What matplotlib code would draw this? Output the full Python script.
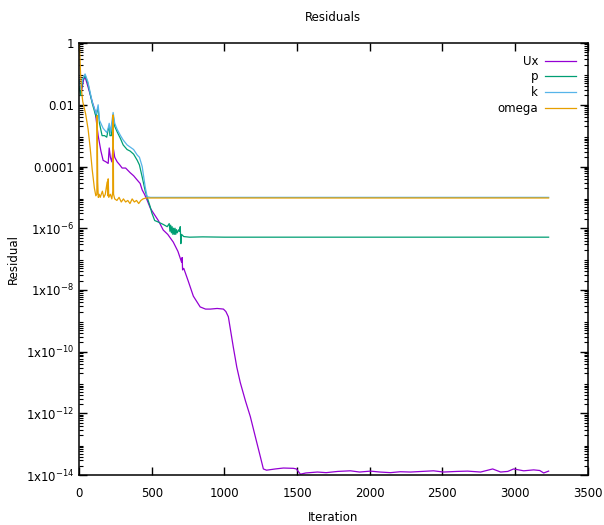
import numpy as np
import matplotlib
matplotlib.use("Agg")
import matplotlib.pyplot as plt
from matplotlib.ticker import FixedLocator, FixedFormatter, LogLocator, NullFormatter

# residual histories (iteration, log10 residual)
ux_it = [0, 15, 30, 41, 60, 90, 110, 131, 150, 165, 185, 200, 207, 215, 225, 234, 245, 262, 280, 296,
         320, 351, 375, 400, 420, 434, 450, 468, 490, 510, 545, 579, 610, 648, 680, 705, 709, 712, 720,
         750, 786, 833, 870, 903, 950, 993, 1010, 1027, 1061, 1085, 1109, 1145, 1178, 1215, 1247, 1268,
         1290, 1350, 1406, 1475, 1495, 1523, 1560, 1640, 1700, 1780, 1867, 1930, 2005, 2070, 2143, 2210,
         2281, 2360, 2439, 2508, 2600, 2673, 2763, 2846, 2901, 2950, 2990, 3060, 3128, 3170, 3197, 3231]
ux_log = [-1.5, -1.6, -1.2, -1.1, -1.4, -1.9, -2.2, -3.0, -3.5, -3.8, -3.85, -3.9, -3.4, -3.7, -3.85,
          -3.37, -3.7, -3.85, -3.95, -4.05, -4.05, -4.2, -4.3, -4.44, -4.55, -4.76, -4.9, -5.09, -5.35,
          -5.5, -5.75, -6.06, -6.2, -6.45, -6.75, -7.1, -6.95, -7.35, -7.3, -7.7, -8.2, -8.55, -8.62,
          -8.62, -8.6, -8.62, -8.7, -8.87, -9.85, -10.5, -11.0, -11.6, -12.1, -12.8, -13.4, -13.8, -13.84,
          -13.8, -13.77, -13.78, -13.8, -13.97, -13.93, -13.9, -13.92, -13.88, -13.86, -13.9, -13.87,
          -13.9, -13.92, -13.89, -13.9, -13.88, -13.86, -13.9, -13.88, -13.87, -13.9, -13.8, -13.9,
          -13.88, -13.8, -13.86, -13.83, -13.85, -13.93, -13.87]

p_it = [0, 10, 25, 41, 60, 90, 117, 124, 131, 140, 158, 175, 190, 200, 207, 212, 222, 234, 245, 262,
        285, 303, 330, 351, 375, 400, 415, 434, 455, 475, 489, 500, 520, 545, 580, 606, 620, 625, 630,
        635, 640, 645, 650, 655, 660, 665, 670, 675, 680, 685, 690, 696, 700, 705, 720, 760, 850, 1000,
        3231]
p_log = [-1.4, -1.7, -1.2, -1.05, -1.3, -1.95, -2.4, -2.2, -2.1, -2.6, -3.0, -3.0, -3.05, -2.8, -2.7,
         -3.0, -3.0, -2.33, -2.7, -2.88, -3.1, -3.3, -3.45, -3.5, -3.6, -3.8, -3.95, -4.34, -4.8, -5.1,
         -5.3, -5.5, -5.75, -5.8, -5.88, -5.95, -5.85, -6.1, -5.9, -6.15, -5.95, -6.2, -6.0, -6.2, -6.0,
         -6.2, -6.05, -6.15, -6.1, -6.05, -6.1, -5.95, -6.5, -6.2, -6.27, -6.29, -6.28, -6.29, -6.29]

k_it = [0, 10, 25, 41, 60, 90, 117, 131, 140, 165, 190, 200, 207, 215, 234, 245, 262, 285, 303, 330,
        351, 375, 400, 415, 434, 455, 468, 490, 3231]
k_log = [-1.2, -1.5, -1.15, -1.0, -1.25, -1.9, -2.3, -2.0, -2.5, -2.76, -2.9, -2.75, -2.6, -2.9, -2.25,
         -2.6, -2.8, -3.0, -3.14, -3.3, -3.37, -3.45, -3.63, -3.7, -4.0, -4.67, -4.98, -5.0, -5.0]

om_it = [0, 5, 10, 18, 25, 45, 62, 76, 90, 105, 115, 122, 124, 128, 132, 138, 145, 160, 170, 180, 193,
         197, 200, 204, 215, 225, 232, 234, 237, 245, 260, 275, 290, 305, 320, 335, 350, 365, 380, 395,
         410, 425, 440, 460, 3231]
om_log = [0.0, -0.4, -1.0, -1.6, -1.9, -2.3, -2.8, -3.4, -4.1, -4.7, -4.95, -4.9, -2.35, -4.5, -5.0,
          -4.9, -5.0, -4.8, -5.0, -4.9, -4.5, -4.95, -4.4, -5.0, -4.9, -5.05, -4.8, -2.33, -4.9, -5.05,
          -5.1, -5.0, -5.15, -5.05, -5.15, -5.1, -5.2, -5.05, -5.15, -5.1, -5.2, -5.1, -5.05, -5.02, -5.02]

series = [("Ux", ux_it, ux_log, "#9400d3"),
          ("p", p_it, p_log, "#009e73"),
          ("k", k_it, k_log, "#56b4e9"),
          ("omega", om_it, om_log, "#e69f00")]

y_ticks = [1, 1e-2, 1e-4, 1e-6, 1e-8, 1e-10, 1e-12, 1e-14]
y_labels = ["1", "0.01", "0.0001", r"1x10$^{-6}$", r"1x10$^{-8}$", r"1x10$^{-10}$",
            r"1x10$^{-12}$", r"1x10$^{-14}$"]
x_ticks = [0, 500, 1000, 1500, 2000, 2500, 3000, 3500]

plt.rcParams['font.family'] = ['DejaVu Sans']
plt.rcParams['mathtext.fontset'] = 'dejavusans'

fig = plt.figure(figsize=(6.04, 5.25), dpi=100)
ax = fig.add_axes([0.131, 0.095, 0.842, 0.823])

for name, it, lg, col in series:
    ax.plot(it, 10.0 ** np.array(lg), color=col, lw=0.9, label=name)

ax.set_yscale("log")
ax.set_xlim(0, 3500)
ax.set_ylim(1e-14, 1)
ax.yaxis.set_major_locator(FixedLocator(y_ticks))
ax.yaxis.set_major_formatter(FixedFormatter(y_labels))
ax.yaxis.set_minor_locator(LogLocator(base=10, subs=np.arange(2, 10), numticks=30))
ax.yaxis.set_minor_formatter(NullFormatter())
ax.set_xticks(x_ticks)
ax.tick_params(which="both", direction="in", top=True, right=True, labelsize=8.5)
ax.tick_params(which="major", length=6, width=1)
ax.tick_params(which="minor", length=3, width=0.8)
ax.tick_params(axis="x", which="major", pad=8.5)
for s in ax.spines.values():
    s.set_linewidth(1.1)

ax.set_title("Residuals", fontsize=8.5, pad=16)
ax.set_xlabel("Iteration", fontsize=8.5, labelpad=8)
ax.set_ylabel("Residual", fontsize=8.5, labelpad=4)

ax.legend(loc="upper right", frameon=False, markerfirst=False, fontsize=8.5,
          handlelength=2.6, labelspacing=0.22, borderaxespad=0.6, handletextpad=0.6)

fig.savefig("out.png", dpi=100)
